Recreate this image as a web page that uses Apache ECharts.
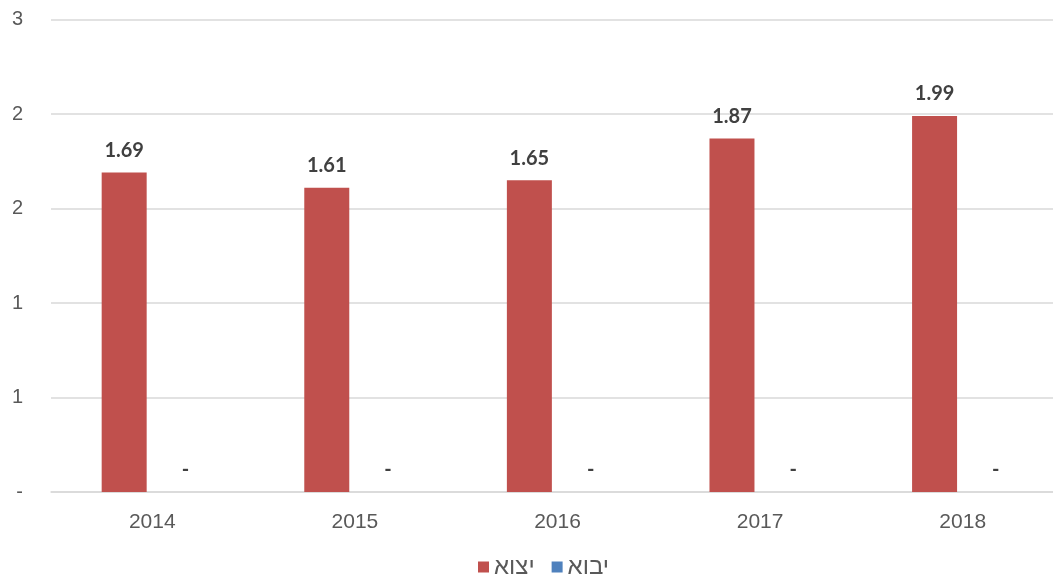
<!DOCTYPE html>
<html><head><meta charset="utf-8">
<script src="https://cdn.jsdelivr.net/npm/echarts@6/dist/echarts.min.js"></script>
<style>html,body{margin:0;padding:0;background:#fff}#c{width:1053px;height:584px}</style>
</head><body><div id="c"></div>
<script>
var categories = ['2014','2015','2016','2017','2018'];
var exportName = 'יצוא';
var importName = 'יבוא';
var exportValues = [1.69, 1.61, 1.65, 1.87, 1.99];
var importValues = [0, 0, 0, 0, 0];

var chart = echarts.init(document.getElementById('c'));
var labelCfg = {
  show: true, position: 'top', distance: 12,
  fontFamily: 'Lato', fontWeight: 'bold', fontSize: 20, color: '#404040',
  formatter: function(p){ return p.value === 0 ? '-' : p.value.toFixed(2); }
};
chart.setOption({
  animation: false,
  grid: { left: 51, top: 19.5, width: 1013, bottom: 92, containLabel: false, outerBoundsMode: 'none' },
  legend: {
    left: 473, bottom: 0, itemWidth: 11, itemHeight: 11, itemGap: 17,
    icon: 'rect',
    textStyle: { fontFamily: 'Liberation Sans', fontSize: 24, color: '#595959' },
    data: [exportName, importName]
  },
  xAxis: {
    type: 'category', data: categories,
    axisLine: { lineStyle: { color: '#d9d9d9', width: 1.5 } },
    axisTick: { show: false },
    axisLabel: { fontFamily: 'Liberation Sans', fontSize: 21, color: '#595959', margin: 20 }
  },
  yAxis: {
    type: 'value', min: 0, max: 2.5, interval: 0.5,
    axisLine: { show: false }, axisTick: { show: false },
    splitLine: { lineStyle: { color: '#d9d9d9', width: 1.5 } },
    axisLabel: {
      fontFamily: 'Liberation Sans', fontSize: 20, color: '#595959', margin: 28,
      formatter: function(v){ return v === 0 ? '-' : String(Math.round(v)); }
    }
  },
  series: [
    { name: exportName, type: 'bar', data: exportValues, barWidth: 45, barGap: '25%',
      itemStyle: { color: '#C0504D' }, label: labelCfg },
    { name: importName, type: 'bar', data: importValues, barWidth: 45,
      itemStyle: { color: '#4F81BD' },
      label: Object.assign({}, labelCfg, { offset: [5, 0] }) }
  ]
});
</script></body></html>
